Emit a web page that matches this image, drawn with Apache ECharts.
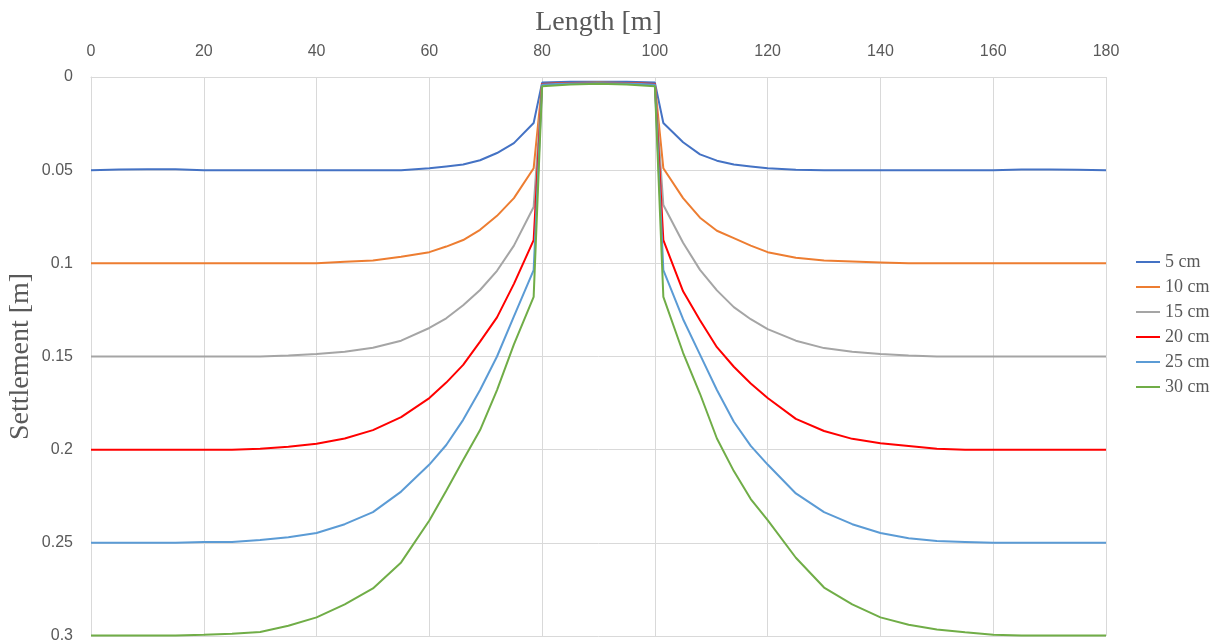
<!DOCTYPE html>
<html>
<head>
<meta charset="utf-8">
<title>Settlement</title>
<script src="https://cdn.jsdelivr.net/npm/echarts@6/dist/echarts.min.js"></script>
<style>
  html, body { margin: 0; padding: 0; background: #fff; }
  #chart { width: 1220px; height: 641px; }
</style>
</head>
<body>
<div id="chart"></div>
<script>
  // distance along the section [m]
  var lengths = [0, 5, 10, 15, 20, 25, 30, 35, 40, 45, 50, 55, 60, 63, 66, 69, 72, 75, 78.5,
    80, 85, 90, 95, 100,
    101.5, 105, 108, 111, 114, 117, 120, 125, 130, 135, 140, 145, 150, 155, 160, 165, 170, 175, 180];

  // settlement [m] for each layer thickness
  var s5cm = [0.05, 0.0497, 0.0495, 0.0495, 0.05, 0.05, 0.05, 0.05, 0.05, 0.05, 0.05, 0.05, 0.049, 0.048, 0.047, 0.0447, 0.0408, 0.0355, 0.0247,
    0.003, 0.0025, 0.0025, 0.0025, 0.003,
    0.0247, 0.035, 0.0415, 0.0449, 0.047, 0.048, 0.049, 0.0498, 0.05, 0.05, 0.05, 0.05, 0.05, 0.05, 0.05, 0.0497, 0.0497, 0.0498, 0.05];
  var s10cm = [0.1, 0.1, 0.1, 0.1, 0.1, 0.1, 0.1, 0.1, 0.1, 0.0992, 0.0985, 0.0965, 0.094, 0.091, 0.0875, 0.082, 0.0745, 0.065, 0.049,
    0.0037, 0.0032, 0.003, 0.0032, 0.0037,
    0.049, 0.065, 0.0755, 0.0825, 0.0865, 0.0905, 0.094, 0.097, 0.0985, 0.099, 0.0995, 0.1, 0.1, 0.1, 0.1, 0.1, 0.1, 0.1, 0.1];
  var s15cm = [0.15, 0.15, 0.15, 0.15, 0.15, 0.15, 0.15, 0.1495, 0.1487, 0.1475, 0.1453, 0.1415, 0.1347, 0.1295, 0.1225, 0.1143, 0.104, 0.0905, 0.0698,
    0.004, 0.0034, 0.0033, 0.0034, 0.004,
    0.0687, 0.089, 0.1035, 0.1145, 0.1235, 0.13, 0.1353, 0.1415, 0.1455, 0.1475, 0.1487, 0.1495, 0.15, 0.15, 0.15, 0.15, 0.15, 0.15, 0.15];
  var s20cm = [0.2, 0.2, 0.2, 0.2, 0.2, 0.2, 0.1995, 0.1984, 0.1968, 0.194, 0.1895, 0.1825, 0.1723, 0.164, 0.1545, 0.142, 0.129, 0.111, 0.0875,
    0.0037, 0.0033, 0.0033, 0.0033, 0.0037,
    0.0875, 0.115, 0.1305, 0.145, 0.1555, 0.1645, 0.1723, 0.1835, 0.19, 0.1942, 0.1965, 0.198, 0.1995, 0.2, 0.2, 0.2, 0.2, 0.2, 0.2];
  var s25cm = [0.25, 0.25, 0.25, 0.25, 0.2495, 0.2495, 0.2485, 0.247, 0.2447, 0.24, 0.2335, 0.2225, 0.208, 0.1975, 0.184, 0.168, 0.15, 0.1285, 0.1036,
    0.004, 0.0035, 0.0034, 0.0035, 0.004,
    0.1036, 0.13, 0.149, 0.168, 0.185, 0.198, 0.208, 0.2235, 0.2335, 0.24, 0.2447, 0.2475, 0.249, 0.2495, 0.25, 0.25, 0.25, 0.25, 0.25];
  var s30cm = [0.2997, 0.2997, 0.2997, 0.2997, 0.2993, 0.2988, 0.2978, 0.2945, 0.29, 0.283, 0.2745, 0.2605, 0.238, 0.222, 0.2055, 0.1895, 0.168, 0.1435, 0.118,
    0.005, 0.004, 0.0036, 0.004, 0.005,
    0.118, 0.148, 0.17, 0.194, 0.2115, 0.2265, 0.2378, 0.258, 0.274, 0.283, 0.29, 0.294, 0.2965, 0.298, 0.2993, 0.2997, 0.2997, 0.2997, 0.2997];

  var seriesNames = ['5 cm', '10 cm', '15 cm', '20 cm', '25 cm', '30 cm'];
  var seriesValues = [s5cm, s10cm, s15cm, s20cm, s25cm, s30cm];
  var seriesColors = ['#4472C4', '#ED7D31', '#A5A5A5', '#FF0000', '#5B9BD5', '#70AD47'];

  var gridColor = '#d9d9d9';
  var textColor = '#595959';

  var chart = echarts.init(document.getElementById('chart'));

  chart.setOption({
    animation: false,
    backgroundColor: '#ffffff',
    grid: {
      left: 91,
      right: 114,
      top: 77,
      bottom: 5,
      containLabel: false,
      outerBoundsMode: 'none'
    },
    legend: {
      orient: 'vertical',
      left: 1131,
      top: 248,
      icon: 'rect',
      itemWidth: 24,
      itemHeight: 2,
      itemGap: 7,
      data: seriesNames,
      textStyle: {
        color: textColor,
        fontFamily: 'Liberation Serif',
        fontSize: 18
      }
    },
    xAxis: {
      type: 'value',
      position: 'top',
      min: 0,
      max: 180,
      interval: 20,
      name: 'Length [m]',
      nameLocation: 'middle',
      nameGap: 40,
      nameMoveOverlap: false,
      nameTextStyle: {
        color: textColor,
        fontFamily: 'Liberation Serif',
        fontSize: 28
      },
      axisLine: { show: true, lineStyle: { color: gridColor } },
      axisTick: { show: false },
      axisLabel: {
        color: textColor,
        fontFamily: 'Liberation Sans',
        fontSize: 16,
        margin: 17
      },
      splitLine: { show: true, lineStyle: { color: gridColor, width: 1 } }
    },
    yAxis: {
      type: 'value',
      inverse: true,
      min: 0,
      max: 0.3,
      interval: 0.05,
      name: 'Settlement [m]',
      nameLocation: 'middle',
      nameGap: 56,
      nameMoveOverlap: false,
      nameTextStyle: {
        color: textColor,
        fontFamily: 'Liberation Serif',
        fontSize: 28
      },
      axisLine: { show: true, lineStyle: { color: gridColor } },
      axisTick: { show: false },
      axisLabel: {
        color: textColor,
        fontFamily: 'Liberation Sans',
        fontSize: 16,
        margin: 18,
        formatter: function (v) {
          return String(Math.round(v * 100) / 100);
        }
      },
      splitLine: { show: true, lineStyle: { color: gridColor, width: 1 } }
    },
    series: seriesNames.map(function (name, i) {
      return {
        name: name,
        type: 'line',
        symbol: 'none',
        smooth: false,
        clip: false,
        color: seriesColors[i],
        lineStyle: { width: 2, color: seriesColors[i] },
        data: lengths.map(function (x, j) {
          return [x, seriesValues[i][j]];
        })
      };
    })
  });
</script>
</body>
</html>
